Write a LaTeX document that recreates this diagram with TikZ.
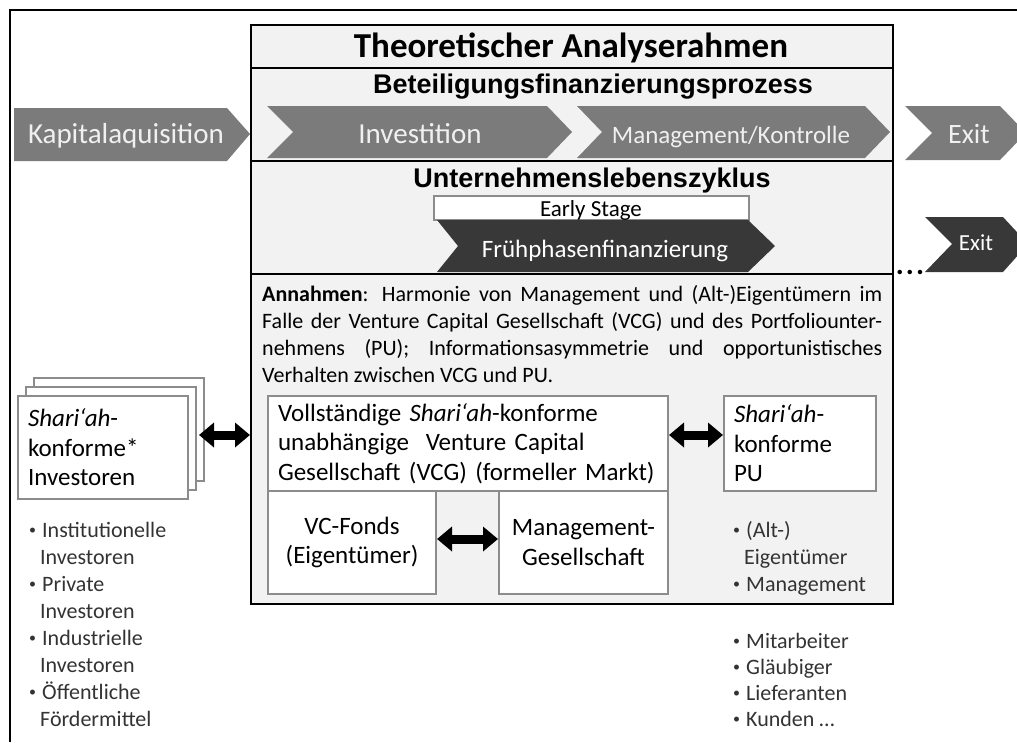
\documentclass[tikz,border=0pt]{standalone}
\usepackage{fontspec}
\setmainfont{Carlito}
\newfontfamily\headfont{Liberation Sans}
\usetikzlibrary{arrows.meta}
\definecolor{chevgray}{HTML}{7B7B7B}
\definecolor{chevdark}{HTML}{383838}
\definecolor{panelbg}{HTML}{F2F2F2}
\definecolor{boxline}{HTML}{8C8C8C}
\definecolor{softwhite}{HTML}{F0F0F0}
\newcommand{\fs}[2]{\fontsize{#1}{#2}\selectfont}
\newcommand{\bul}{\makebox[13pt][l]{\raisebox{0.25ex}{\fs{14}{14}\textbullet}}}
\newcommand{\ind}{\hspace*{11pt}}

\begin{document}
\begin{tikzpicture}[x=1pt,y=-1pt,
    panel/.style={draw=black, line width=2pt, fill=panelbg, anchor=north west, inner sep=0pt},
    whitebox/.style={draw=boxline, line width=2pt, fill=white, anchor=north west, inner sep=0pt, font=\fs{25}{29.5}},
    chevtext/.style={text=softwhite, inner sep=0pt, anchor=base},
    heading/.style={inner sep=0pt, anchor=base, font=\headfont\bfseries\fs{27}{30}},
    dblarrow/.style={line width=9pt, {Triangle[length=15pt,width=24pt]}-{Triangle[length=15pt,width=24pt]}},
    list/.style={anchor=north west, align=left, inner sep=0pt, text=black!80}
  ]
  \useasboundingbox (0,0) rectangle (1017,742);
  \draw[line width=2.5pt] (1017,10) -- (10,10) -- (10,742);

  % rahmen
  \node[panel, minimum width=642pt, minimum height=43pt] (title) at (250,24) {};
  \node[panel, minimum width=642pt, minimum height=93pt] (process) at (250,67) {};
  \node[panel, minimum width=642pt, minimum height=113pt] (cycle) at (250,160) {};
  \node[panel, minimum width=642pt, minimum height=330pt] (annahmen) at (250,273) {};

  \node[inner sep=0pt, anchor=base, font=\bfseries\fs{35}{40}] (titletext) at (571,57) {Theoretischer Analyserahmen};
  \node[heading] (processtext) at (593,93) {Beteiligungsfinanzierungsprozess};
  \node[heading] (cycletext) at (592,187) {Unternehmenslebenszyklus};

  % prozess
  \fill[chevgray] (14,108) -- (227,108) -- (250,134) -- (227,161) -- (14,161) -- cycle;
  \fill[chevgray] (267,106) -- (547,106) -- (572,132) -- (547,158) -- (267,158) -- (293,132) -- cycle;
  \fill[chevgray] (577,106) -- (865,106) -- (890,132) -- (865,158) -- (577,158) -- (602,132) -- cycle;
  \fill[chevgray] (905,106) -- (1000,106) -- (1026,133) -- (1000,160) -- (905,160) -- (932,133) -- cycle;
  \node[chevtext, font=\fs{29}{32}] (kapital) at (126,143) {Kapitalaquisition};
  \node[chevtext, font=\fs{29}{32}] (invest) at (420,143) {Investition};
  \node[chevtext, font=\fs{25}{28}] (kontrolle) at (731,143) {Management/Kontrolle};
  \node[chevtext, font=\fs{28}{30}] (exit) at (969,143) {Exit};

  % zyklus
  \node[draw=boxline, line width=1.5pt, fill=white, anchor=north west, minimum width=315pt, minimum height=24pt] (early) at (433,195) {};
  \node[inner sep=0pt, anchor=base, font=\fs{23}{25}] (earlytext) at (591,216) {Early Stage};
  \fill[chevdark] (437,220) -- (748,220) -- (775,246) -- (748,272) -- (437,272) -- (458,246) -- cycle;
  \fill[chevdark] (925,217) -- (1003,217) -- (1028,244) -- (1003,272) -- (925,272) -- (952,244) -- cycle;
  \node[inner sep=0pt, anchor=base, text=white, font=\fs{25}{28}] (frueh) at (605,257) {Frühphasenfinanzierung};
  \node[inner sep=0pt, anchor=base, text=white, font=\fs{23}{25}] (exit2) at (976,250) {Exit};
  \node[inner sep=0pt, anchor=base, font=\bfseries\fs{30}{30}] (dots) at (910,274) {.\hspace{2pt}.\hspace{2pt}.};

  % annahmen
  \node[list, text=black, font=\fs{22}{27}] (assume) at (262,285) {%
    \makebox[620pt][s]{\textbf{Annahmen}: Harmonie von Management und (Alt-)Eigentümern im}\\
    \makebox[620pt][s]{Falle der Venture Capital Gesellschaft (VCG) und des Portfoliounter-}\\
    \makebox[620pt][s]{nehmens (PU); Informationsasymmetrie und opportunistisches}\\
    Verhalten zwischen VCG und PU.};

  \node[whitebox, minimum width=400pt, minimum height=95pt, text width=380pt, inner xsep=10pt, align=left] (vcg) at (267,395)
    {Vollständige \textit{Shari‘ah}-konforme\\unabhängige\ \ Venture Capital\\Gesellschaft (VCG) (formeller Markt)};
  \node[whitebox, minimum width=168pt, minimum height=103pt, align=center] (fonds) at (267,490) {VC-Fonds\\(Eigentümer)};
  \node[whitebox, minimum width=169pt, minimum height=103pt, align=center] (mgmt) at (498,490) {Management-\\Gesellschaft};
  \node[whitebox, minimum width=152pt, minimum height=95pt, text width=132pt, inner xsep=10pt, align=left] (pu) at (723,395)
    {\textit{Shari‘ah}-\\konforme\\PU};

  % investoren
  \node[whitebox, minimum width=170pt, minimum height=103pt] (inv3) at (33,377) {};
  \node[whitebox, minimum width=170pt, minimum height=103pt] (inv2) at (25,386) {};
  \node[whitebox, minimum width=170pt, minimum height=103pt, text width=150pt, inner xsep=10pt, align=left] (inv1) at (17,395)
    {\textit{Shari‘ah}-\\konforme*\\Investoren};

  \draw[dblarrow] ([xshift=-6pt,yshift=-5.5pt]inv3.east) -- ([yshift=4pt]annahmen.west);
  \draw[dblarrow] ([yshift=8.5pt]vcg.east) -- ([yshift=8.5pt]pu.west);
  \draw[dblarrow] ([yshift=3.5pt]fonds.east) -- ([yshift=3.5pt]mgmt.west);

  % listen
  \node[list, font=\fs{22}{27}] (invlist) at (29,522)
    {\bul Institutionelle\\\ind Investoren\\\bul Private\\\ind Investoren\\\bul Industrielle\\\ind Investoren\\\bul Öffentliche\\\ind Fördermittel};
  \node[list, font=\fs{22}{27}] (pulist) at (733,521)
    {\bul (Alt-)\\\ind Eigentümer\\\bul Management};
  \node[list, font=\fs{22}{26}] (stakelist) at (733,633)
    {\bul Mitarbeiter\\\bul Gläubiger\\\bul Lieferanten\\\bul Kunden …};
\end{tikzpicture}
\end{document}
